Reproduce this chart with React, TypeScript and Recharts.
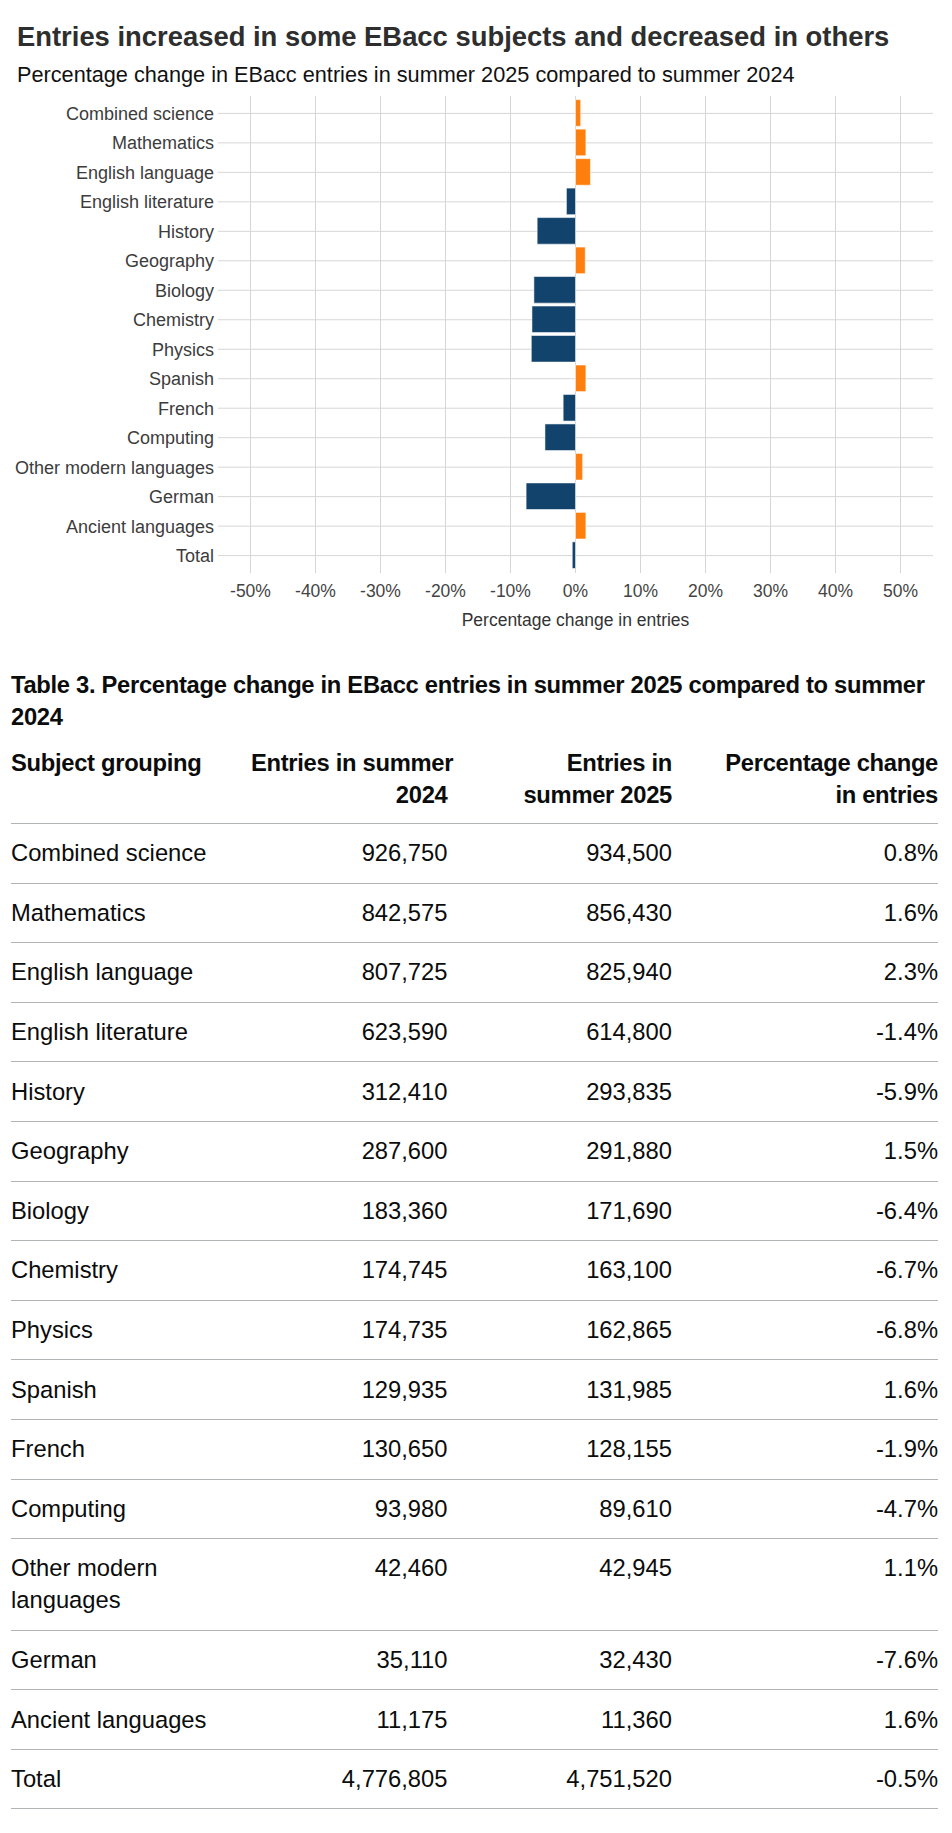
import { BarChart, Bar, Cell, XAxis, YAxis, CartesianGrid } from 'recharts';

const subjects = [
  'Combined science',
  'Mathematics',
  'English language',
  'English literature',
  'History',
  'Geography',
  'Biology',
  'Chemistry',
  'Physics',
  'Spanish',
  'French',
  'Computing',
  'Other modern languages',
  'German',
  'Ancient languages',
  'Total',
];

const entries2024 = [
  926750, 842575, 807725, 623590, 312410, 287600, 183360, 174745, 174735, 129935, 130650, 93980, 42460, 35110, 11175,
  4776805,
];

const entries2025 = [
  934500, 856430, 825940, 614800, 293835, 291880, 171690, 163100, 162865, 131985, 128155, 89610, 42945, 32430, 11360,
  4751520,
];

const pctChange = [0.8, 1.6, 2.3, -1.4, -5.9, 1.5, -6.4, -6.7, -6.8, 1.6, -1.9, -4.7, 1.1, -7.6, 1.6, -0.5];

const xTicks = [-50, -40, -30, -20, -10, 0, 10, 20, 30, 40, 50];

const chartData = subjects.map((subject, i) => ({ subject, change: pctChange[i] }));

const ORANGE = '#ff7f0e';
const NAVY = '#12436d';
const GRID = '#d6d6d6';
const TICK_FONT = 17.5;
const CAT_FONT = 18;

const fmtNum = (n: number) => n.toLocaleString('en-GB');
const fmtPct = (n: number) => `${n.toFixed(1)}%`;

const cellBase: React.CSSProperties = {
  padding: '13.3px 25px 13.3px 0',
  lineHeight: '32px',
  borderBottom: '1px solid #b1b4b6',
  verticalAlign: 'top',
  textAlign: 'right',
};

const headBase: React.CSSProperties = {
  ...cellBase,
  padding: '12.5px 25px 11.7px 0',
  fontWeight: 700,
  letterSpacing: '-0.3px',
  whiteSpace: 'nowrap',
};

function EntriesChart() {
  return (
    <div style={{ position: 'absolute', left: 0, top: 0 }}>
      <BarChart
        width={952}
        height={640}
        data={chartData}
        layout="vertical"
        margin={{ top: 96, right: 19, bottom: 0, left: 0 }}
      >
        <CartesianGrid stroke={GRID} strokeWidth={1} syncWithTicks />
        <XAxis
          type="number"
          domain={[-55, 55]}
          ticks={xTicks}
          allowDataOverflow
          tickFormatter={(v) => `${v}%`}
          axisLine={false}
          tickLine={false}
          tickSize={0}
          tickMargin={12}
          height={67}
          tick={{ fontSize: TICK_FONT, fill: '#444' }}
          label={{
            value: 'Percentage change in entries',
            position: 'insideBottom',
            offset: 14,
            fontSize: TICK_FONT,
            fill: '#333',
          }}
        />
        <YAxis
          type="category"
          dataKey="subject"
          width={218}
          interval={0}
          axisLine={false}
          tickLine={false}
          tickSize={0}
          tickMargin={4}
          padding={{ top: 2.65, bottom: 2.65 }}
          tick={{ fontSize: CAT_FONT, fill: '#3c3c3c' }}
        />
        <Bar dataKey="change" barSize={26.6} isAnimationActive={false}>
          {chartData.map((d) => (
            <Cell
              key={d.subject}
              fill={d.change >= 0 ? ORANGE : NAVY}
              stroke="rgba(255,255,255,0.55)"
              strokeWidth={1}
            />
          ))}
        </Bar>
      </BarChart>
    </div>
  );
}

function EntriesTable() {
  return (
    <div style={{ position: 'absolute', left: 11, top: 669.3, width: 927, color: '#0b0c0c', fontSize: 23.75 }}>
      <div style={{ fontWeight: 700, lineHeight: '32px', letterSpacing: '-0.3px', marginBottom: 1.5 }}>
        Table 3. Percentage change in EBacc entries in summer 2025 compared to summer
        <br />
        2024
      </div>
      <table style={{ width: 927, borderCollapse: 'collapse', tableLayout: 'fixed' }}>
        <colgroup>
          <col style={{ width: 240 }} />
          <col style={{ width: 221.5 }} />
          <col style={{ width: 224.5 }} />
          <col style={{ width: 241 }} />
        </colgroup>
        <thead>
          <tr>
            <th style={{ ...headBase, textAlign: 'left' }}>Subject grouping</th>
            <th style={headBase}>
              Entries in summer
              <br />
              2024
            </th>
            <th style={headBase}>
              Entries in
              <br />
              summer 2025
            </th>
            <th style={{ ...headBase, paddingRight: 0 }}>
              Percentage change
              <br />
              in entries
            </th>
          </tr>
        </thead>
        <tbody>
          {subjects.map((s, i) => (
            <tr key={s}>
              <td style={{ ...cellBase, textAlign: 'left' }}>{s}</td>
              <td style={cellBase}>{fmtNum(entries2024[i])}</td>
              <td style={cellBase}>{fmtNum(entries2025[i])}</td>
              <td style={{ ...cellBase, paddingRight: 0 }}>{fmtPct(pctChange[i])}</td>
            </tr>
          ))}
        </tbody>
      </table>
    </div>
  );
}

export default function App() {
  return (
    <div
      style={{
        position: 'absolute',
        left: 0,
        top: 0,
        width: 952,
        height: 1833,
        background: '#fff',
        fontFamily: '"Liberation Sans", Arial, sans-serif',
      }}
    >
      <div
        style={{
          position: 'absolute',
          left: 17,
          top: 20.6,
          fontSize: 27.4,
          lineHeight: 1.15,
          fontWeight: 700,
          color: '#2e2e2e',
          whiteSpace: 'nowrap',
        }}
      >
        Entries increased in some EBacc subjects and decreased in others
      </div>
      <div
        style={{
          position: 'absolute',
          left: 17,
          top: 62.8,
          fontSize: 21.7,
          lineHeight: 1.15,
          color: '#111',
          whiteSpace: 'nowrap',
        }}
      >
        Percentage change in EBacc entries in summer 2025 compared to summer 2024
      </div>
      <EntriesChart />
      <EntriesTable />
    </div>
  );
}
